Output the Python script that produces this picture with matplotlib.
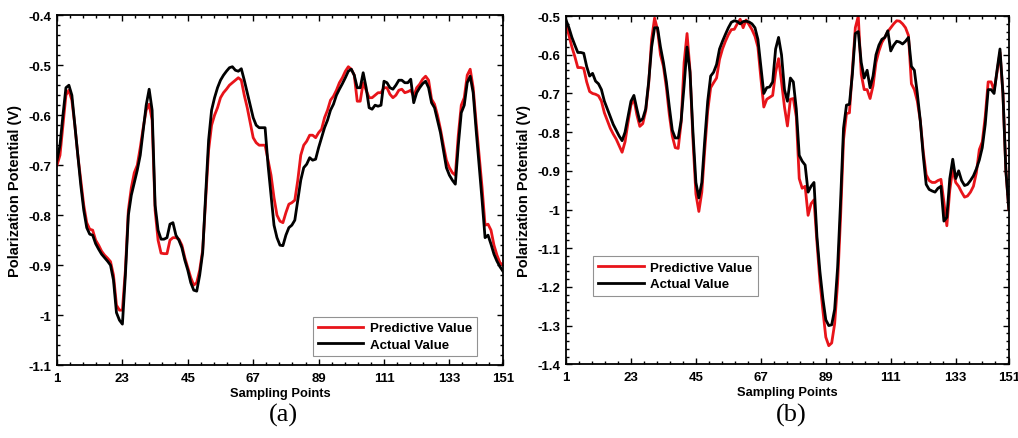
import numpy as np
import matplotlib
matplotlib.use('Agg')
import matplotlib.pyplot as plt
from matplotlib.ticker import AutoMinorLocator

plt.rcParams['font.family'] = ['Liberation Sans', 'DejaVu Sans']

# sampling points
points = np.arange(1, 152)
xticks = [1, 23, 45, 67, 89, 111, 133, 151]

# panel (a)
actual_a = [
    -0.690, -0.660, -0.600, -0.545, -0.540, -0.560, -0.620, -0.680, -0.740, -0.790,
    -0.825, -0.838, -0.840, -0.857, -0.868, -0.878, -0.885, -0.892, -0.900, -0.930,
    -0.995, -1.010, -1.018, -0.920, -0.800, -0.760, -0.735, -0.710, -0.680, -0.630,
    -0.580, -0.548, -0.590, -0.780, -0.830, -0.848, -0.848, -0.845, -0.818, -0.815,
    -0.840, -0.850, -0.865, -0.890, -0.910, -0.935, -0.950, -0.952, -0.920, -0.875,
    -0.760, -0.650, -0.590, -0.565, -0.545, -0.530, -0.520, -0.512, -0.505, -0.503,
    -0.510, -0.512, -0.507, -0.530, -0.555, -0.580, -0.605, -0.620, -0.625, -0.625,
    -0.625, -0.700, -0.760, -0.820, -0.845, -0.860, -0.861, -0.840, -0.825, -0.820,
    -0.810, -0.770, -0.730, -0.705, -0.698, -0.685, -0.690, -0.688, -0.665, -0.645,
    -0.625, -0.610, -0.590, -0.578, -0.560, -0.548, -0.537, -0.525, -0.512, -0.508,
    -0.520, -0.545, -0.545, -0.515, -0.545, -0.585, -0.588, -0.580, -0.582, -0.580,
    -0.532, -0.535, -0.545, -0.548, -0.540, -0.530, -0.530, -0.535, -0.535, -0.528,
    -0.575, -0.555, -0.545, -0.537, -0.532, -0.545, -0.575, -0.585, -0.610, -0.635,
    -0.670, -0.705, -0.720, -0.730, -0.738, -0.660, -0.595, -0.580, -0.535, -0.522,
    -0.555, -0.630, -0.700, -0.770, -0.845, -0.840, -0.858, -0.878, -0.892, -0.903,
    -0.912]
predicted_a = [
    -0.700, -0.680, -0.620, -0.560, -0.550, -0.570, -0.620, -0.680, -0.730, -0.780,
    -0.815, -0.828, -0.830, -0.850, -0.860, -0.872, -0.880, -0.886, -0.893, -0.920,
    -0.980, -0.990, -0.990, -0.910, -0.790, -0.745, -0.715, -0.700, -0.665, -0.625,
    -0.590, -0.578, -0.610, -0.790, -0.850, -0.876, -0.877, -0.877, -0.850, -0.845,
    -0.845, -0.848, -0.860, -0.885, -0.905, -0.925, -0.940, -0.935, -0.910, -0.870,
    -0.770, -0.670, -0.620, -0.600, -0.585, -0.565, -0.555, -0.548, -0.540, -0.535,
    -0.530, -0.525, -0.530, -0.560, -0.585, -0.615, -0.645, -0.655, -0.660, -0.660,
    -0.660, -0.690, -0.720, -0.765, -0.800, -0.812, -0.815, -0.795, -0.778, -0.775,
    -0.770, -0.730, -0.680, -0.660, -0.652, -0.640, -0.640, -0.645, -0.635, -0.628,
    -0.605, -0.590, -0.570, -0.562, -0.550, -0.535, -0.525, -0.512, -0.503, -0.508,
    -0.520, -0.572, -0.572, -0.535, -0.550, -0.565, -0.565, -0.560, -0.555, -0.555,
    -0.545, -0.545, -0.558, -0.565, -0.560, -0.550, -0.548, -0.555, -0.553, -0.550,
    -0.562, -0.545, -0.538, -0.528, -0.522, -0.530, -0.568, -0.578, -0.600, -0.628,
    -0.660, -0.690, -0.705, -0.715, -0.720, -0.640, -0.580, -0.565, -0.520, -0.508,
    -0.545, -0.615, -0.680, -0.745, -0.820, -0.818, -0.830, -0.860, -0.880, -0.895,
    -0.900]

# panel (b)
actual_b = [
    -0.510, -0.530, -0.555, -0.575, -0.594, -0.594, -0.596, -0.630, -0.655, -0.648,
    -0.668, -0.675, -0.690, -0.720, -0.740, -0.760, -0.780, -0.795, -0.810, -0.822,
    -0.800, -0.760, -0.720, -0.705, -0.740, -0.772, -0.765, -0.740, -0.670, -0.580,
    -0.530, -0.530, -0.580, -0.620, -0.670, -0.735, -0.795, -0.815, -0.815, -0.770,
    -0.680, -0.580, -0.645, -0.800, -0.930, -0.970, -0.930, -0.820, -0.720, -0.655,
    -0.645, -0.625, -0.585, -0.565, -0.547, -0.530, -0.516, -0.512, -0.514, -0.520,
    -0.514, -0.513, -0.515, -0.520, -0.530, -0.560, -0.630, -0.700, -0.685, -0.683,
    -0.670, -0.585, -0.555, -0.600, -0.690, -0.720, -0.660, -0.670, -0.740, -0.860,
    -0.875, -0.885, -0.955, -0.940, -0.930, -1.070, -1.160, -1.230, -1.285, -1.300,
    -1.298, -1.258, -1.150, -0.980, -0.790, -0.730, -0.728, -0.650, -0.545, -0.540,
    -0.620, -0.660, -0.640, -0.685, -0.655, -0.600, -0.575, -0.560, -0.555, -0.538,
    -0.590, -0.575, -0.565, -0.567, -0.572, -0.565, -0.555, -0.630, -0.640, -0.700,
    -0.770, -0.860, -0.935, -0.948, -0.952, -0.955, -0.945, -0.940, -1.030, -1.020,
    -0.920, -0.870, -0.920, -0.900, -0.925, -0.938, -0.935, -0.925, -0.913, -0.895,
    -0.872, -0.840, -0.780, -0.690, -0.690, -0.700, -0.640, -0.585, -0.700, -0.900,
    -1.000]
predicted_b = [
    -0.520, -0.550, -0.580, -0.605, -0.633, -0.633, -0.635, -0.670, -0.695, -0.700,
    -0.702, -0.706, -0.720, -0.750, -0.770, -0.790, -0.805, -0.818, -0.835, -0.852,
    -0.825, -0.775, -0.730, -0.714, -0.755, -0.785, -0.778, -0.745, -0.675, -0.560,
    -0.505, -0.535, -0.600, -0.630, -0.685, -0.755, -0.810, -0.840, -0.842, -0.775,
    -0.620, -0.545, -0.640, -0.820, -0.960, -1.005, -0.955, -0.845, -0.745, -0.685,
    -0.672, -0.660, -0.612, -0.585, -0.565, -0.548, -0.535, -0.534, -0.520, -0.508,
    -0.530, -0.510, -0.522, -0.535, -0.552, -0.580, -0.660, -0.735, -0.715, -0.710,
    -0.705, -0.645, -0.610, -0.670, -0.735, -0.784, -0.715, -0.713, -0.760, -0.920,
    -0.945, -0.940, -1.015, -0.985, -0.975, -1.085, -1.185, -1.260, -1.330, -1.352,
    -1.345, -1.295, -1.190, -1.020, -0.820, -0.752, -0.750, -0.640, -0.530, -0.500,
    -0.650, -0.690, -0.690, -0.713, -0.680, -0.620, -0.590, -0.568, -0.555, -0.540,
    -0.530, -0.520, -0.512, -0.513, -0.520, -0.530, -0.550, -0.675, -0.690, -0.720,
    -0.770, -0.850, -0.910, -0.925, -0.930, -0.930, -0.925, -0.922, -0.980, -1.042,
    -0.950, -0.895, -0.930, -0.940, -0.955, -0.968, -0.965, -0.955, -0.940, -0.905,
    -0.845, -0.825, -0.760, -0.670, -0.670, -0.692, -0.645, -0.594, -0.700, -0.900,
    -1.000]

fig = plt.figure(figsize=(10.18, 4.39), dpi=100)
ax1 = fig.add_axes([0.056, 0.166, 0.438, 0.797])
ax2 = fig.add_axes([0.556, 0.168, 0.435, 0.793])


def style_axis(ax, ylim, yticks):
    ax.set_xlim(1, 151)
    ax.set_ylim(*ylim)
    ax.set_xticks(xticks)
    ax.set_yticks(yticks)
    ax.set_yticklabels(['%g' % t for t in yticks])
    ax.xaxis.set_minor_locator(AutoMinorLocator(5))
    ax.yaxis.set_minor_locator(AutoMinorLocator(5))
    ax.tick_params(which='both', direction='in', top=True, right=True, width=1.0)
    ax.tick_params(which='major', length=4, labelsize=9.5)
    ax.tick_params(axis='x', which='major', pad=5)
    ax.tick_params(axis='y', which='major', pad=4)
    ax.tick_params(which='minor', length=2)
    for lab in ax.get_xticklabels() + ax.get_yticklabels():
        lab.set_fontweight('bold')
    for sp in ax.spines.values():
        sp.set_linewidth(1.3)
    ax.set_xlabel('Sampling Points', fontsize=9.3, fontweight='bold', labelpad=2)
    ax.set_ylabel('Polarization Potential (V)', fontsize=10.5, fontweight='bold', labelpad=5)


def add_legend(ax, **kw):
    leg = ax.legend(borderaxespad=0, fancybox=False, edgecolor='#777777',
                    handlelength=3.4, prop={'weight': 'bold', 'size': 9.6},
                    borderpad=0.4, labelspacing=0.3, handletextpad=0.5, **kw)
    leg.get_frame().set_linewidth(0.8)
    return leg


ax1.plot(points, predicted_a, color='#e8141a', linewidth=2.0, label='Predictive Value')
ax1.plot(points, actual_a, color='black', linewidth=2.0, label='Actual Value')
style_axis(ax1, (-1.1, -0.4), [-1.1, -1.0, -0.9, -0.8, -0.7, -0.6, -0.5, -0.4])
add_legend(ax1, loc='lower right', bbox_to_anchor=(0.943, 0.026))

ax2.plot(points, predicted_b, color='#e8141a', linewidth=2.0, label='Predictive Value')
ax2.plot(points, actual_b, color='black', linewidth=2.0, label='Actual Value')
style_axis(ax2, (-1.4, -0.5), [-1.4, -1.3, -1.2, -1.1, -1.0, -0.9, -0.8, -0.7, -0.6, -0.5])
add_legend(ax2, loc='upper left', bbox_to_anchor=(0.061, 0.31))

fig.text(0.278, 0.054, '(a)', family='Liberation Serif', fontsize=19, ha='center', va='center')
fig.text(0.777, 0.054, '(b)', family='Liberation Serif', fontsize=19, ha='center', va='center')

fig.savefig('out.png', dpi=100)
